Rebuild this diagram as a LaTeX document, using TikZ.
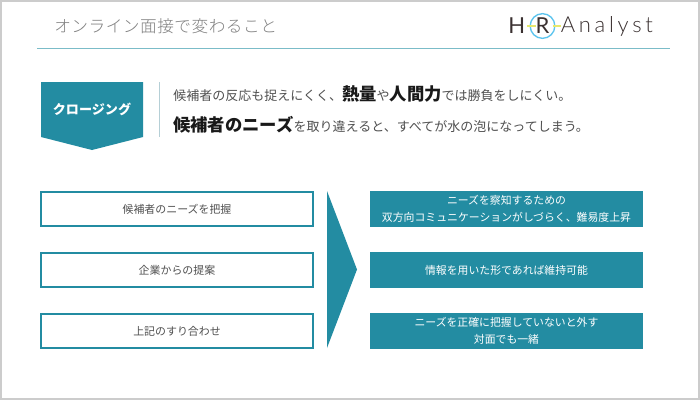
\documentclass[tikz,border=0pt]{standalone}
\usepackage{fontspec}
\setmainfont{Noto Sans CJK JP}
\newfontfamily\titlefont[LetterSpace=3]{Noto Sans CJK JP Light}
\newfontfamily\logofont[LetterSpace=17]{Lato Light}
\newfontfamily\logoletter{Lato}
\definecolor{tealmain}{HTML}{238CA2}
\definecolor{rulecol}{HTML}{7BBCC8}
\definecolor{framecol}{HTML}{CCCCCC}
\definecolor{sepcol}{HTML}{B5CFD6}
\definecolor{titlecol}{HTML}{7F7F7F}
\definecolor{bodycol}{HTML}{505050}
\definecolor{ringcol}{HTML}{5CC4EE}
\definecolor{dashcol}{HTML}{E6E86E}
\definecolor{logocol}{HTML}{3A3030}
\newcommand{\keyword}[1]{{\fontsize{13}{16}\selectfont\bfseries\color{black!90}#1}}

\begin{document}
\begin{tikzpicture}[x=0.75pt, y=-0.75pt, leftbox/.style={draw=tealmain, line width=1pt, fill=white, minimum width=204pt, minimum height=25.5pt, inner sep=0pt, text=bodycol, font=\fontsize{8.2}{11}\selectfont}, rightbox/.style={fill=tealmain, minimum width=204.75pt, minimum height=27pt, inner sep=0pt, text=white, align=center, font=\fontsize{8.15}{12.7}\selectfont}, textline/.style={anchor=west, inner sep=0pt, text=bodycol, font=\fontsize{9.75}{12}\selectfont}]
        \useasboundingbox (0,0) rectangle (700,400);
        \draw[framecol, line width=1.6pt, fill=white] (1,1) rectangle (698.8,399);
        % header
        \node[anchor=west, inner sep=0pt, text=titlecol, font=\fontsize{12.5}{15}\titlefont] (title) at (54,26) {オンライン面接で変わること};
        \draw[rulecol, line width=1.2pt] (37,48.5) -- (670,48.5);
        % logo
        \node[anchor=west, inner sep=0pt, text=logocol, font=\fontsize{16.5}{18}\logoletter] (h) at (508,26) {H};
        \node[inner sep=0pt, text=logocol, font=\fontsize{16.5}{18}\logoletter] (r) at (542.5,26) {R};
        \node[anchor=west, inner sep=0pt, text=logocol, font=\fontsize{16.5}{18}\logofont] (analyst) at (560.5,26) {Analyst};
        \node[draw=ringcol, circle, line width=1pt, minimum size=18.5pt, inner sep=0pt] (ring) at (542.5,26) {};
        \draw[dashcol, line width=0.8pt] (h.east) ++(2,0) -- ([xshift=4.5pt]ring.west);
        \draw[dashcol, line width=0.8pt] ([xshift=-2pt]ring.east) -- (analyst.west);
        % closing tag
        \fill[tealmain] (41,82) -- (143,82) -- (143,137) -- (92,150) -- (41,137) -- cycle;
        \node[text=white, inner sep=0pt, font=\fontsize{9.8}{12}\selectfont\bfseries] (closing) at (92,109) {クロージング};
        \draw[sepcol, line width=0.6pt] (159,82) -- (159,137);
        \node[textline] (line1) at (173,94) {候補者の反応も捉えにくく、\keyword{熱量}や\keyword{人間力}では勝負をしにくい。};
        \node[textline] (line2) at (173,124.5) {\keyword{候補者のニーズ}を取り違えると、すべてが水の泡になってしまう。};
        % left boxes
        \node[leftbox] (need) at (177,209) {候補者のニーズを把握};
        \node[leftbox] (offer) at (177,270) {企業からの提案};
        \node[leftbox] (match) at (177,331) {上記のすり合わせ};
        % arrow
        \fill[tealmain] (327,191) -- (357,269.5) -- (327,348) -- cycle;
        % right boxes
        \node[rightbox] (hard) at (506.5,209) {ニーズを察知するための\\双方向コミュニケーションがしづらく、難易度上昇};
        \node[rightbox] (keep) at (506.5,270) {情報を用いた形であれば維持可能};
        \node[rightbox] (same) at (506.5,331) {ニーズを正確に把握していないと外す\\対面でも一緒};
    \end{tikzpicture}
\end{document}
